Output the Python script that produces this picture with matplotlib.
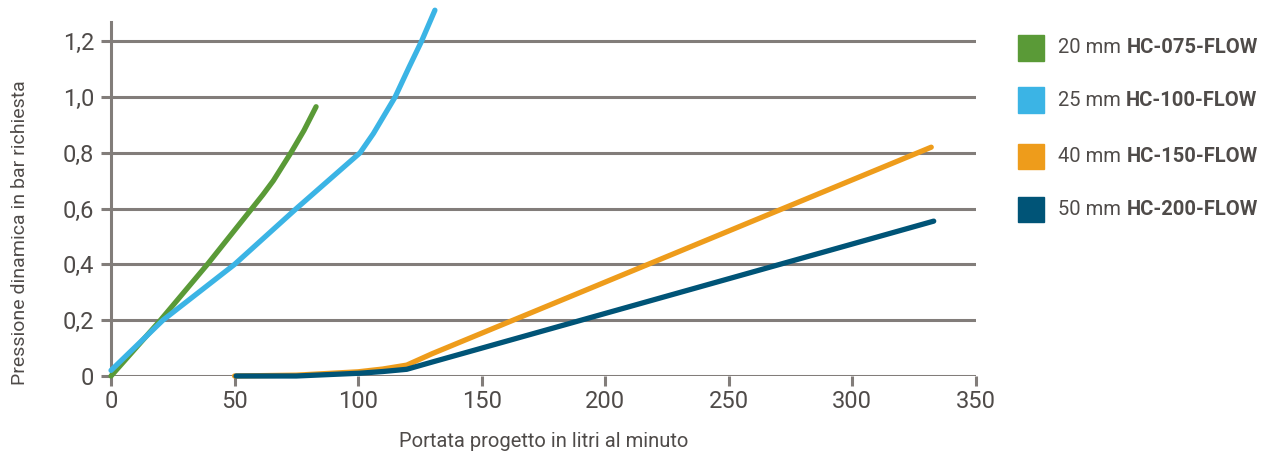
import matplotlib
matplotlib.use("Agg")
import matplotlib.pyplot as plt
from matplotlib.patches import Rectangle

plt.rcParams["font.family"] = ["Roboto", "DejaVu Sans"]

# flow in l/min vs. dynamic pressure in bar
green_x = [0, 20, 39, 57, 61.5, 65.7, 72.8, 78.1, 83]
green_y = [0.0, 0.2, 0.4, 0.6, 0.65, 0.70, 0.80, 0.88, 0.965]

blue_x = [0, 21, 50, 75, 100.8, 106.2, 115, 120.7, 125.7, 131.1]
blue_y = [0.02, 0.2, 0.4, 0.6, 0.8, 0.869, 1.0, 1.108, 1.2, 1.311]

orange_x = [50, 75, 100, 110, 119.7, 130, 332]
orange_y = [0.0, 0.003, 0.015, 0.025, 0.039, 0.08, 0.82]

navy_x = [50.6, 75, 100.8, 110, 119.7, 130, 333]
navy_y = [0.0, 0.0, 0.01, 0.016, 0.024, 0.05, 0.555]

sizes = ["20 mm", "25 mm", "40 mm", "50 mm"]
models = ["HC-075-FLOW", "HC-100-FLOW", "HC-150-FLOW", "HC-200-FLOW"]
colors = ["#5a9a37", "#3bb4e5", "#ee9c1b", "#005477"]

x_ticks = [0, 50, 100, 150, 200, 250, 300, 350]
y_ticks = [0, 0.2, 0.4, 0.6, 0.8, 1.0, 1.2]
y_labels = ["0", "0,2", "0,4", "0,6", "0,8", "1,0", "1,2"]

GRID = "#827d7a"
TEXT = "#4f4b49"

fig = plt.figure(figsize=(12.66, 4.53), dpi=100)
ax = fig.add_axes([0.0877, 0.170, 0.683, 0.781])

for y in y_ticks:
    ax.axhline(y, color=GRID, linewidth=2.2, zorder=1)

series = [(green_x, green_y), (blue_x, blue_y), (orange_x, orange_y), (navy_x, navy_y)]
for (xs, ys), c in zip(series, colors):
    ax.plot(xs, ys, color=c, linewidth=3.8, solid_capstyle="round",
            solid_joinstyle="round", clip_on=False, zorder=3)

ax.set_xlim(0, 350)
ax.set_ylim(0, 1.268)
ax.set_xticks(x_ticks)
ax.set_yticks(y_ticks)
ax.set_yticklabels(y_labels)
for s in ["top", "right", "bottom"]:
    ax.spines[s].set_visible(False)
ax.spines["left"].set_color(GRID)
ax.spines["left"].set_linewidth(2.2)
ax.tick_params(axis="both", colors=GRID, width=2.2, length=7, labelsize=17,
               labelcolor=TEXT, pad=5)
ax.tick_params(axis="x", pad=3)

ax.set_xlabel("Portata progetto in litri al minuto", fontsize=14.5, color=TEXT,
              labelpad=14)
ax.set_ylabel("Pressione dinamica in bar richiesta", fontsize=14, color=TEXT)
ax.yaxis.set_label_coords(-0.095, 0.405)

# legend: coloured squares, regular size + bold model name
leg_y = [0.895, 0.779, 0.655, 0.538]
for i, (sz, model, c) in enumerate(zip(sizes, models, colors)):
    y = leg_y[i]
    fig.patches.append(Rectangle((0.804, y - 0.029), 0.0205, 0.057,
                                 transform=fig.transFigure, color=c))
    t = fig.text(0.836, y, sz + " ", fontsize=14.5, color=TEXT, va="center")
    ax.annotate(model, xy=(1, 0.5), xycoords=t, va="center", ha="left",
                fontsize=14.5, color=TEXT, fontweight="bold")

fig.savefig("out.png", dpi=100)
